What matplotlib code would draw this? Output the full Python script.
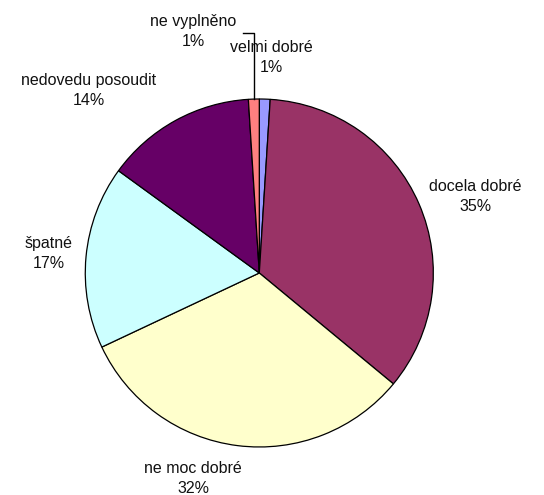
import numpy as np
import matplotlib
matplotlib.use("Agg")
import matplotlib.pyplot as plt

labels = ["velmi dobré", "docela dobré", "ne moc dobré", "špatné", "nedovedu posoudit", "ne vyplněno"]
shares = [1, 35, 32, 17, 14, 1]
colors = ["#9999FF", "#993366", "#FFFFCC", "#CCFFFF", "#660066", "#FF8080"]

# where each label sits, in pie radius units
label_pos = [(0.07, 1.24), (1.24, 0.44), (-0.38, -1.18), (-1.21, 0.11), (-0.98, 1.05), (-0.38, 1.39)]

plt.rcParams['font.family'] = ['Liberation Sans', 'DejaVu Sans']

fig = plt.figure(figsize=(5.44, 4.95), dpi=100)
ax = fig.add_axes([0, 0, 1, 1])
wedges, _ = ax.pie(shares, colors=colors, startangle=90, counterclock=False,
                   wedgeprops=dict(edgecolor="black", linewidth=0.9))
ax.set_xlim(-1.49, 1.636)
ax.set_ylim(-1.276, 1.569)
ax.set_aspect('auto')

for name, val, (x, y) in zip(labels, shares, label_pos):
    ax.text(x, y, f"{name}\n{val}%", ha="center", va="center", fontsize=11.5,
            linespacing=1.4, color="#111111")

# leader line for the last small slice
w = wedges[-1]
mid = np.deg2rad((w.theta1 + w.theta2) / 2)
x0, y0 = np.cos(mid), np.sin(mid)
ax.plot([x0, x0, x0 - 0.065], [y0, 1.38, 1.38], color="black", linewidth=1.0)

fig.savefig("out.png", dpi=100)
